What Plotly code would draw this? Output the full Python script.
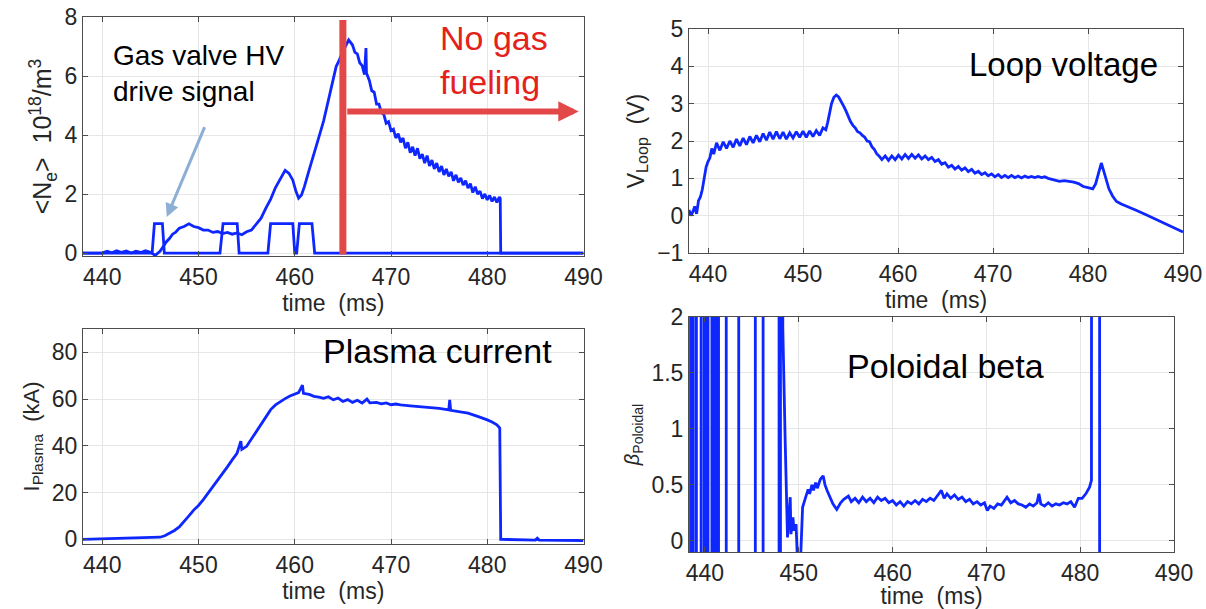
import plotly.graph_objects as go

# ---------------- data ----------------
ne_t = [438.0, 440.0, 440.5, 441.0, 441.5, 442.0, 442.5, 443.0, 443.5, 444.0, 444.5, 445.0, 445.5, 446.0,
        446.3, 446.6, 447.0, 447.3, 447.6, 448.0, 448.5, 449.0, 449.5, 450.0, 450.5, 451.0, 451.5, 452.0,
        452.5, 453.0, 453.5, 454.0, 454.5, 455.0, 455.5, 456.0, 456.5, 457.0, 457.5, 458.0, 458.5, 459.0,
        459.4, 459.8, 460.1, 460.4, 460.7, 461.0, 461.5, 462.0, 462.5, 463.0, 463.5, 464.0, 464.3, 464.6,
        465.0, 465.3, 465.6,
        466.00, 466.25, 466.50, 466.75, 467.00, 467.25, 467.40, 467.45, 467.75, 468.00, 468.25, 468.50,
        468.75, 469.00, 469.25, 469.50, 469.75, 470.00, 470.25, 470.50, 470.75, 471.00, 471.25, 471.50,
        471.75, 472.00, 472.25, 472.50, 472.75, 473.00, 473.25, 473.50, 473.75, 474.00, 474.25, 474.50,
        474.75, 475.00, 475.25, 475.50, 475.75, 476.00, 476.25, 476.50, 476.75, 477.00, 477.25, 477.50,
        477.75, 478.00, 478.25, 478.50, 478.75, 479.00, 479.25, 479.50, 479.75, 480.00, 480.25, 480.50,
        480.75, 481.00, 481.25, 481.35, 481.40, 490.0]
ne_v = [0.0, 0.0, 0.06, 0.01, 0.08, 0.02, 0.07, 0.0, 0.06, 0.02, 0.08, 0.03, -0.08, 0.06,
        0.2, 0.36, 0.5, 0.64, 0.7, 0.84, 0.9, 0.99, 0.9, 0.86, 0.78, 0.78, 0.7, 0.73,
        0.66, 0.7, 0.64, 0.68, 0.62, 0.72, 0.78, 0.97, 1.18, 1.52, 1.83, 2.22, 2.52, 2.8,
        2.7, 2.47, 2.12, 1.86, 1.97, 2.25, 2.82, 3.33, 3.92, 4.48, 5.17, 5.83, 6.32, 6.52,
        6.85, 7.02, 7.22,
        7.05, 6.8, 6.75, 6.45, 6.35, 6.05, 6.95, 6.1, 5.85, 5.5, 5.45, 5.05,
        5.05, 4.75, 4.7, 4.4, 4.45, 4.15, 4.2, 3.9, 4.05, 3.75, 3.9, 3.55,
        3.75, 3.4, 3.6, 3.3, 3.55, 3.2, 3.35, 3.05, 3.3, 2.95, 3.15, 2.85,
        3.05, 2.75, 2.95, 2.65, 2.85, 2.6, 2.75, 2.45, 2.65, 2.4, 2.55, 2.3,
        2.45, 2.2, 2.35, 2.05, 2.25, 2.0, 2.1, 1.85, 2.0, 1.8, 1.95, 1.75,
        1.9, 1.72, 1.9, 1.85, 0.0, 0.0]

gv_t = [438.0, 445.18, 445.42, 446.25, 446.45, 452.23, 452.55, 454.02, 454.22, 457.21, 457.49, 459.8,
        460.0, 460.2, 460.48, 461.79, 462.07, 490.0]
gv_v = [0, 0, 1, 1, 0, 0, 1, 1, 0, 0, 1, 1, 0, 0, 1, 1, 0, 0]

vl_t = [438.0, 438.2, 438.4, 438.6, 438.8, 439.0, 439.2, 439.4, 439.6, 439.8, 440.0, 440.2, 440.4, 440.6,
        440.90, 441.25, 441.60, 441.95, 442.30, 442.65, 443.00, 443.35, 443.70, 444.05, 444.40, 444.75,
        445.10, 445.45, 445.80, 446.15, 446.50, 446.85, 447.20, 447.55, 447.90, 448.25, 448.60, 448.95,
        449.30, 449.65, 450.00, 450.35, 450.70, 451.05, 451.40, 451.75, 452.10, 452.40, 452.60, 452.80,
        453.00, 453.25, 453.50, 453.75, 454.00, 454.25, 454.50, 454.75, 455.00, 455.25, 455.50, 455.75,
        456.00, 456.25, 456.50, 456.75, 457.00, 457.25, 457.50, 457.75, 458.00, 458.30, 458.65, 459.00,
        459.35, 459.70, 460.05, 460.40, 460.75, 461.10, 461.45, 461.80, 462.15, 462.50, 462.85, 463.20,
        463.55, 463.90, 464.25, 464.60, 464.95, 465.30, 465.65, 466.00, 466.35, 466.70, 467.05, 467.40,
        467.75, 468.10, 468.45, 468.80, 469.15, 469.50, 469.85, 470.20, 470.55, 470.90, 471.25, 471.60,
        471.95, 472.30, 472.65, 473.00, 473.35, 473.70, 474.05, 474.40, 474.75, 475.10, 475.45, 475.80,
        476.20, 476.60, 477.00, 477.50, 478.00, 478.50, 479.00, 479.50, 480.00, 480.50, 480.80, 481.10,
        481.40, 481.65, 481.90, 482.20, 482.60, 483.00, 483.50, 484.00, 485.00, 486.00, 487.00, 488.00,
        489.00, 490.00]
vl_v = [0.15, 0.0, 0.1, 0.25, 0.05, 0.4, 0.5, 0.7, 1.0, 1.3, 1.45, 1.55, 1.8, 1.65,
        1.95, 1.75, 1.98, 1.8, 2.0, 1.83, 2.05, 1.87, 2.08, 1.9, 2.12, 1.95,
        2.15, 1.98, 2.2, 2.02, 2.24, 2.05, 2.25, 2.06, 2.24, 2.05, 2.22, 2.08,
        2.25, 2.1, 2.26, 2.1, 2.27, 2.12, 2.28, 2.15, 2.35, 2.3, 2.5, 2.75,
        3.0, 3.17, 3.23, 3.18, 3.08, 2.95, 2.82, 2.65, 2.52, 2.42, 2.35, 2.25,
        2.22, 2.15, 2.1, 2.0, 1.98, 1.85, 1.78, 1.66, 1.6, 1.5, 1.6, 1.48,
        1.6, 1.5, 1.62, 1.52, 1.64, 1.53, 1.64, 1.54, 1.63, 1.52, 1.6, 1.5,
        1.56, 1.45, 1.5, 1.38, 1.42, 1.3, 1.35, 1.25, 1.32, 1.22, 1.28, 1.18,
        1.24, 1.14, 1.19, 1.1, 1.15, 1.07, 1.12, 1.04, 1.1, 1.02, 1.08, 1.02,
        1.08, 1.02, 1.06, 1.01, 1.06, 1.02, 1.05, 1.02, 1.05, 1.02, 1.04, 1.0,
        0.97, 0.93, 0.92, 0.94, 0.93, 0.9, 0.86, 0.78, 0.75, 0.72, 0.85, 1.15,
        1.41, 1.2, 0.95, 0.72, 0.52, 0.38, 0.31, 0.25, 0.15, 0.04, -0.08, -0.19,
        -0.31, -0.44]

ip_t = [438.0, 440.0, 442.0, 444.0, 445.0, 446.0, 446.5, 447.0, 447.5, 448.0, 448.5, 449.0, 449.5, 450.0,
        450.5, 451.0, 451.5, 452.0, 452.5, 453.0, 453.5, 454.0, 454.4, 454.5, 455.0, 455.5, 456.0, 456.5,
        457.0, 457.5, 458.0, 458.5, 459.0, 459.5, 460.0, 460.4, 460.8, 460.9, 461.5, 462.0, 462.5, 463.0,
        463.5, 464.0, 464.5, 465.0, 465.5, 466.0, 466.5, 467.0, 467.5, 467.8, 468.5, 469.0, 469.5, 470.0,
        470.5, 471.0, 472.0, 473.0, 474.0, 475.0, 476.0, 476.1, 476.2, 477.0, 478.0, 479.0, 479.5, 480.0,
        480.5, 481.0, 481.3, 481.4, 485.0, 485.2, 485.4, 490.0]
ip_v = [0.0, 0.2, 0.3, 0.4, 0.5, 0.9, 1.5, 2.5, 3.8, 5.3, 7.5, 10.0, 12.5, 14.5,
        17.0, 19.7, 22.5, 25.3, 28.0, 31.0, 34.0, 36.8, 42.0, 38.5, 39.8, 43.0, 46.0, 49.5,
        52.5, 55.5, 57.5, 59.0, 60.2, 61.3, 62.3, 62.8, 66.0, 62.5, 62.0, 61.2, 60.8, 60.3,
        61.0, 59.7, 60.4, 59.0, 59.8, 58.6, 59.5, 58.3, 60.0, 58.4, 58.6, 58.0, 58.4, 57.6,
        57.9, 57.5, 57.1, 56.8, 56.5, 56.0, 55.4, 59.7, 55.2, 54.7, 54.0, 52.6, 52.0, 51.1,
        50.2, 49.0, 47.6, 0.0, -0.3, 0.5, -0.3, -0.5]

bp_t = [438.2, 438.47, 438.47, 438.76, 438.76, 439.09, 439.09, 439.59, 439.59, 439.92, 439.92,
        440.12, 440.12, 440.33, 440.33, 440.74, 440.74, 440.95, 440.95, 441.24, 441.24, 441.45, 441.45,
        442.27, 442.27, 443.6, 443.6, 445.37, 445.37, 446.2, 446.2, 447.9, 447.9, 448.05, 448.05,
        448.2, 448.3, 448.55, 448.8, 449.09, 449.17, 449.38, 449.5, 449.71, 449.85, 450.2, 450.41,
        450.74, 451.0, 451.16, 451.4, 451.57, 451.8, 451.98, 452.3, 452.6, 452.8, 453.02, 453.3,
        453.64, 454.05, 454.46, 454.8, 455.29, 455.6, 456.0, 456.4, 456.8, 457.2, 457.6, 458.0,
        458.4, 458.8, 459.2, 459.6, 460.0, 460.4, 460.8, 461.2, 461.6, 462.0, 462.4, 462.8,
        463.2, 463.6, 464.0, 464.4, 464.8, 465.2, 465.5, 465.8, 466.2, 466.6, 467.0, 467.4,
        467.8, 468.2, 468.6, 469.0, 469.4, 469.8, 470.1, 470.4, 470.8, 471.2, 471.6, 472.0,
        472.2, 472.6, 473.0, 473.4, 473.8, 474.2, 474.6, 475.0, 475.4, 475.6, 475.8, 476.2,
        476.6, 477.0, 477.4, 477.8, 478.2, 478.6, 479.0, 479.4, 479.8, 480.2, 480.6, 481.0,
        481.2, 481.4, 482.07, 482.07, 490.0]
bp_v = [-50, -50, 50, 50, -50, -50, 50, 50, -50, -50, 50,
        50, -50, -50, 50, 50, -50, -50, 50, 50, -50, -50, 50,
        50, -50, -50, 50, 50, -50, -50, 50, 50, -50, -50, 50,
        50, 1.9, 0.9, 0.03, 0.39, 0.06, 0.21, 0.09, 0.15, -0.15, -0.15, 0.3,
        0.39, 0.46, 0.42, 0.5, 0.45, 0.52, 0.47, 0.55, 0.58, 0.5, 0.45, 0.4,
        0.33, 0.28, 0.34, 0.37, 0.4, 0.35, 0.38, 0.34, 0.39, 0.35, 0.38, 0.34,
        0.39, 0.36, 0.38, 0.34, 0.36, 0.32, 0.35, 0.31, 0.35, 0.33, 0.36, 0.33,
        0.37, 0.35, 0.38, 0.36, 0.4, 0.45, 0.38, 0.42, 0.38, 0.41, 0.37, 0.39,
        0.35, 0.37, 0.33, 0.35, 0.32, 0.34, 0.27, 0.31, 0.29, 0.33, 0.32, 0.37,
        0.39, 0.34, 0.36, 0.33, 0.32, 0.3, 0.33, 0.31, 0.34, 0.42, 0.33, 0.31,
        0.34, 0.31, 0.33, 0.32, 0.34, 0.33, 0.35, 0.3, 0.38, 0.38, 0.42, 0.48,
        0.54, 50, 50, -50, -50]

x_ticks = [440, 450, 460, 470, 480, 490]

# ---------------- styling ----------------
BLUE = "#0f27ff"
TXT = "#262626"
TICKF = "Liberation Sans, Arial, Helvetica, sans-serif"
REG = "Liberation Sans, Arial, Helvetica, sans-serif"

fig = go.Figure()
fig.add_trace(go.Scatter(x=ne_t, y=ne_v, mode="lines", line=dict(color=BLUE, width=2.8), xaxis="x", yaxis="y"))
fig.add_trace(go.Scatter(x=gv_t, y=gv_v, mode="lines", line=dict(color=BLUE, width=2.8), xaxis="x", yaxis="y"))
fig.add_trace(go.Scatter(x=vl_t, y=vl_v, mode="lines", line=dict(color=BLUE, width=2.8), xaxis="x2", yaxis="y2"))
fig.add_trace(go.Scatter(x=ip_t, y=ip_v, mode="lines", line=dict(color=BLUE, width=2.8), xaxis="x3", yaxis="y3"))
fig.add_trace(go.Scatter(x=bp_t, y=bp_v, mode="lines", line=dict(color=BLUE, width=2.8), xaxis="x4", yaxis="y4"))

W, H = 1206, 609


def dom_x(a, b):
    return [a / W, b / W]


def dom_y(top, bottom):
    return [1 - bottom / H, 1 - top / H]


def xax(domain, anchor, rng):
    return dict(domain=domain, anchor=anchor, range=rng, tickvals=x_ticks, automargin=False,
                showline=True, mirror="ticks", linecolor="#4d4d4d", linewidth=1,
                ticks="inside", ticklen=5, tickcolor="#4d4d4d",
                showgrid=True, gridcolor="#e6e6e6", zeroline=False,
                tickfont=dict(family=TICKF, size=23, color=TXT),
                title=dict(text="time\u00a0\u00a0(ms)", font=dict(family=TICKF, size=23, color=TXT), standoff=0))


def yax(domain, anchor, rng, tv, title, tsize=23, standoff=6):
    return dict(domain=domain, anchor=anchor, range=rng, tickvals=tv, automargin=False,
                showline=True, mirror="ticks", linecolor="#4d4d4d", linewidth=1,
                ticks="inside", ticklen=5, tickcolor="#4d4d4d",
                showgrid=True, gridcolor="#e6e6e6", zeroline=False,
                tickfont=dict(family=TICKF, size=23, color=TXT),
                title=dict(text=title, font=dict(family=TICKF, size=tsize, color=TXT), standoff=standoff))


fig.update_layout(
    width=W, height=H, margin=dict(l=0, r=0, t=0, b=0, autoexpand=False),
    paper_bgcolor="white", plot_bgcolor="white", showlegend=False,
    xaxis=xax(dom_x(83, 583.5), "y", [438, 490]),
    yaxis=yax(dom_y(17, 256), "x", [-0.1, 8], [0, 2, 4, 6, 8],
              "&lt;N<sub>e</sub>&gt;\u00a0\u00a010<sup>18</sup>/m<sup>3</sup>", tsize=25, standoff=5),
    xaxis2=xax(dom_x(689, 1183), "y2", [438, 490]),
    yaxis2=yax(dom_y(29, 253), "x2", [-1, 5], [-1, 0, 1, 2, 3, 4, 5],
               "V<sub>Loop</sub>\u00a0\u00a0(V)"),
    xaxis3=xax(dom_x(83, 583.5), "y3", [438, 490]),
    yaxis3=yax(dom_y(329, 544), "x3", [-2, 90], [0, 20, 40, 60, 80],
               "I<sub>Plasma</sub>\u00a0 (kA)", tsize=22),
    xaxis4=xax(dom_x(689, 1174), "y4", [438.3, 490]),
    yaxis4=yax(dom_y(317, 552), "x4", [-0.1, 2], [0, 0.5, 1, 1.5, 2],
               "<i>β</i><sub>Poloidal</sub>", tsize=20),
)

# red vertical line (end of gas fueling)
fig.add_shape(type="line", xref="x", yref="y", x0=465, x1=465, y0=-0.05, y1=7.9,
              line=dict(color="#e34848", width=7))

fig.add_annotation(xref="x", yref="y", axref="x", ayref="y", x=489.5, y=4.8, ax=465.3, ay=4.8,
                   text="", showarrow=True, arrowhead=2, arrowsize=0.68, arrowwidth=6, arrowcolor="#e34848")
fig.add_annotation(xref="x", yref="y", axref="x", ayref="y", x=446.7, y=1.22, ax=450.7, ay=4.32,
                   text="", showarrow=True, arrowhead=2, arrowsize=0.9, arrowwidth=3, arrowcolor="#8eafd4")

fig.add_annotation(xref="x", yref="y", x=440.9, y=6.08, xanchor="left", yanchor="middle", align="left",
                   text="Gas valve HV<br>drive signal", showarrow=False,
                   font=dict(family=REG, size=28, color="black"))
fig.add_annotation(xref="x", yref="y", x=474.9, y=6.55, xanchor="left", yanchor="middle", align="left",
                   text="No gas<br>fueling", showarrow=False,
                   font=dict(family=REG, size=34, color="#e3221b"))
fig.add_annotation(xref="x2", yref="y2", x=487.6, y=4.04, xanchor="right", yanchor="middle",
                   text="Loop voltage", showarrow=False, font=dict(family=REG, size=33, color="black"))
fig.add_annotation(xref="x3", yref="y3", x=486.9, y=80.4, xanchor="right", yanchor="middle",
                   text="Plasma current", showarrow=False, font=dict(family=REG, size=34, color="black"))
fig.add_annotation(xref="x4", yref="y4", x=465.6, y=1.56, xanchor="center", yanchor="middle",
                   text="Poloidal beta", showarrow=False, font=dict(family=REG, size=34, color="black"))

fig.write_html("out.html", config={"displayModeBar": False},
               post_script="document.body.style.margin='0px';document.body.style.overflow='hidden';")
